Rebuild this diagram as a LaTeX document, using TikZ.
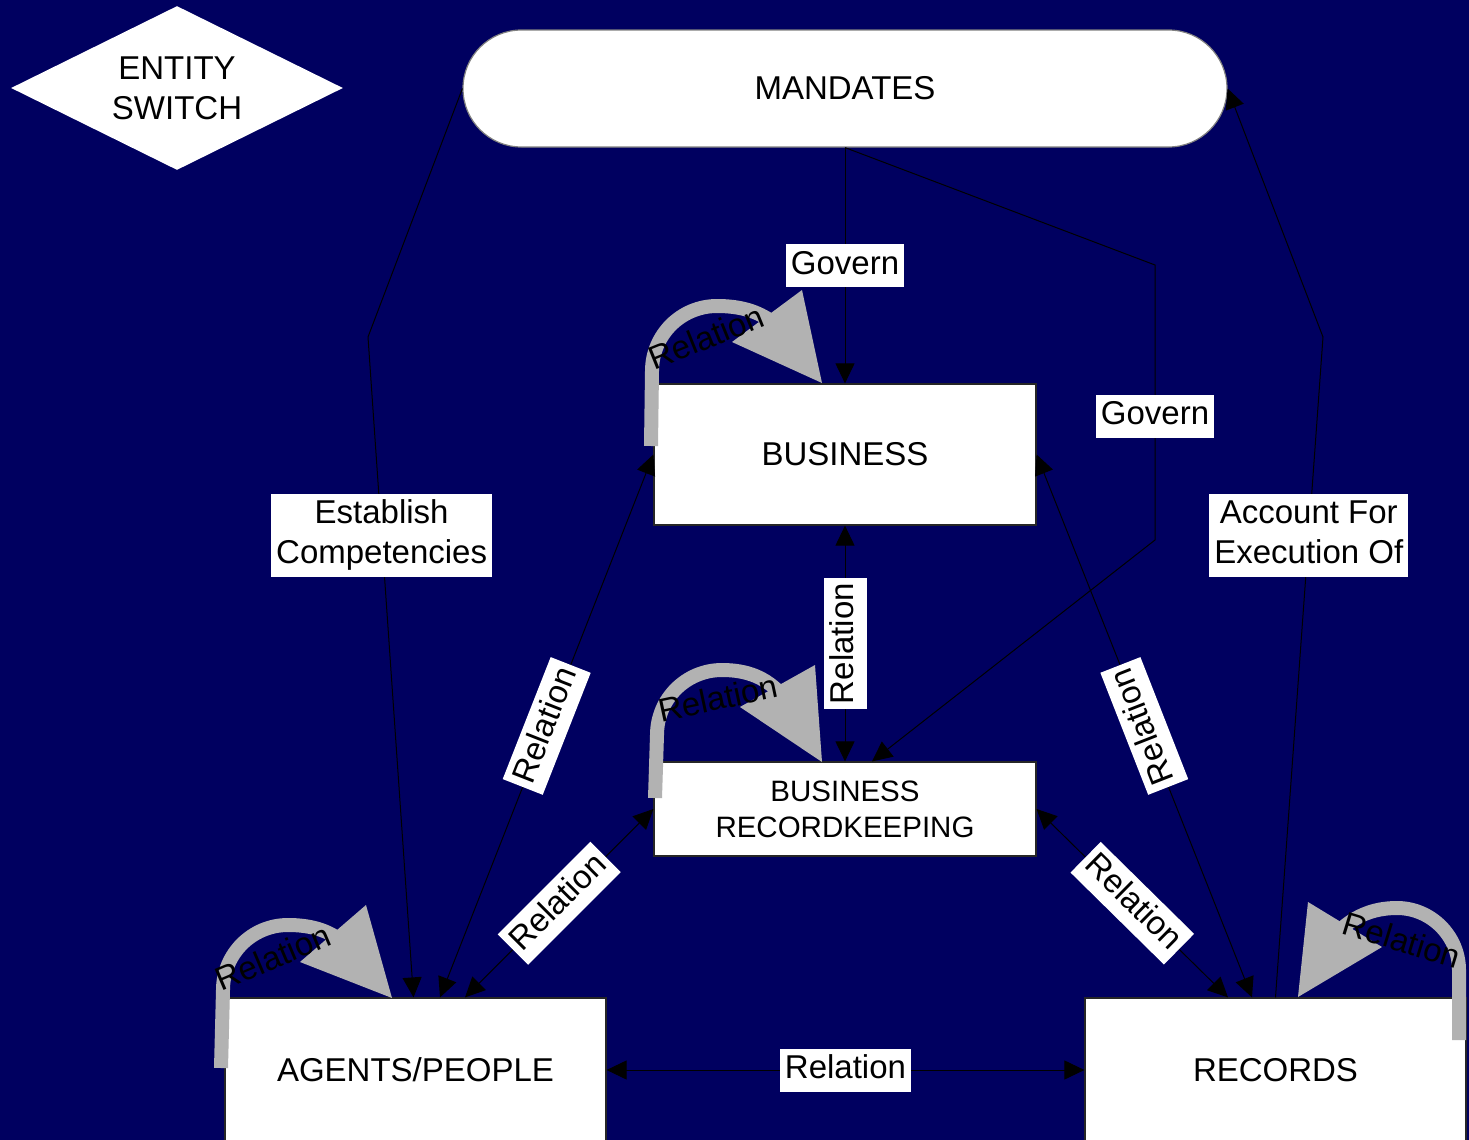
\documentclass[tikz,border=0pt]{standalone}
\usepackage{fontspec}
\setmainfont{Liberation Sans}
\usetikzlibrary{arrows.meta,shapes.geometric}
\definecolor{navy}{RGB}{0,0,96}
\definecolor{loopgray}{RGB}{178,178,178}
% strut that gives every label line the same height and depth
\newcommand{\lblstrut}{\rule[-4pt]{0pt}{16.5pt}}

\begin{document}
\begin{tikzpicture}[x=0.5pt,y=-0.5pt,
  every node/.style={font=\fontsize{16.5pt}{20pt}\selectfont, text=black},
  entity/.style={draw=black!85, line width=0.6pt, fill=white, inner sep=0pt,
    minimum width=191pt, minimum height=70.5pt, align=center},
  conn/.style={draw=black, line width=0.5pt},
  endarrow/.style={-{Triangle[length=10pt,width=9.5pt]}},
  twoway/.style={{Triangle[length=10pt,width=9.5pt]}-{Triangle[length=10pt,width=9.5pt]}},
  lbl/.style={fill=white, inner xsep=2.5pt, inner ysep=2.5pt, align=center},
  loopshaft/.style={draw=loopgray, line width=7pt},
  loophead/.style={fill=loopgray},
  looplbl/.style={inner sep=0pt},
]
% canvas
\fill[navy] (0,0) rectangle (1469,1140);
\useasboundingbox (0,0) rectangle (1469,1140);

% entities
\node[diamond, aspect=2, fill=white, minimum width=166pt, minimum height=82pt,
  inner sep=0pt, align=center] (switch) at (177,88) {ENTITY\\SWITCH};
\node[draw=black!50, line width=0.6pt, fill=white, rounded corners=29.25pt,
  minimum width=382pt, minimum height=58.5pt] (mand) at (845,88.5) {MANDATES};
\node[entity] (bus) at (845,454.5) {BUSINESS};
\node[entity, minimum height=47pt, font=\fontsize{14.75pt}{18pt}\selectfont]
  (br) at (845,809) {BUSINESS\\RECORDKEEPING};
\node[entity, minimum width=190.5pt, minimum height=72pt] (agents) at (415.5,1070) {AGENTS/PEOPLE};
\node[entity, minimum width=190.5pt, minimum height=72pt] (records) at (1275.5,1070) {RECORDS};

% bends of the routed connectors
\coordinate (g2a) at (1155,265);
\coordinate (g2b) at (1155,540);
\coordinate (estb) at (368,337);
\coordinate (accb) at (1323,337);

% mandates
\draw[conn, endarrow] (mand.south) -- node[lbl]{\lblstrut Govern} (bus.north);
\draw[conn, endarrow] (mand.south) -- (g2a) -- node[lbl, pos=0.55]{\lblstrut Govern} (g2b)
  -- ([xshift=13.5pt]br.north);
\draw[conn, endarrow] (mand.west) -- (estb)
  -- node[lbl, pos=0.3]{\lblstrut Establish\\\lblstrut Competencies} ([xshift=-1pt]agents.north);
\draw[conn, endarrow] (records.north)
  -- node[lbl, pos=0.7]{\lblstrut Account For\\\lblstrut Execution Of} (accb) -- (mand.east);

% relations between entities
\draw[conn, twoway] (bus.south) -- node[lbl, rotate=90]{\lblstrut Relation} (br.north);
\draw[conn, twoway] ([xshift=12.25pt]agents.north) -- node[lbl, sloped]{\lblstrut Relation} (bus.west);
\draw[conn, twoway] ([xshift=24.75pt]agents.north) -- node[lbl, sloped]{\lblstrut Relation} (br.west);
\draw[conn, twoway] (br.east) -- node[lbl, sloped]{\lblstrut Relation} ([xshift=-23.75pt]records.north);
\draw[conn, twoway] (bus.east) -- node[lbl, rotate=111.4]{\lblstrut Relation} ([xshift=-11.75pt]records.north);
\draw[conn, twoway] (agents.east) -- node[lbl]{\lblstrut Relation} (records.west);

% self relations
\draw[loopshaft] (651,446) -- (652,371) .. controls (652,335) and (681,306) .. (717,306)
  .. controls (742,306) and (758,312) .. (771,321);
\fill[loophead] (802,290) -- (822,383) -- (732,342) -- cycle;
\node[looplbl, rotate=22] (busself) at (706,337) {Relation};

\draw[loopshaft] (655,798) -- (657,735) .. controls (657,699) and (686,670) .. (722,670)
  .. controls (748,670) and (766,678) .. (781,694);
\fill[loophead] (815,665) -- (822,762) -- (740,707) -- cycle;
\node[looplbl, rotate=12] (brself) at (718,698) {Relation};

\draw[loopshaft] (221,1068) -- (223,990) .. controls (223,954) and (252,925) .. (288,925)
  .. controls (310,925) and (327,930) .. (340,940);
\fill[loophead] (366,905) -- (392,998) -- (300,962) -- cycle;
\node[looplbl, rotate=23] (agself) at (273,957) {Relation};

\draw[loopshaft] (1335,935) .. controls (1352,917) and (1372,908) .. (1397,908)
  .. controls (1431,908) and (1459,936) .. (1459,970) -- (1459,1040);
\fill[loophead] (1308,902) -- (1298,997) -- (1382,947) -- cycle;
\node[looplbl, rotate=-17] (recself) at (1402,940) {Relation};
\end{tikzpicture}
\end{document}
